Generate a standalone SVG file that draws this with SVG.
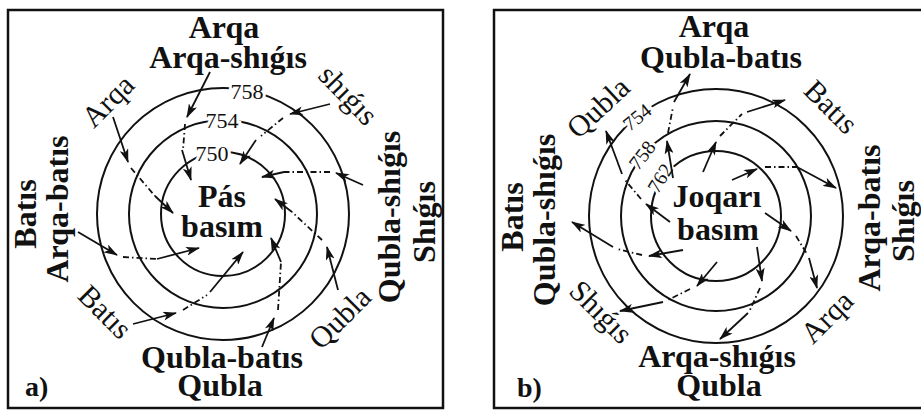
<svg xmlns="http://www.w3.org/2000/svg" width="921" height="412" viewBox="0 0 921 412">
<defs>
<style>
.fr{fill:none;stroke:#111;stroke-width:2.5}
.c{fill:none;stroke:#111;stroke-width:2}
.w{fill:none;stroke:#111;stroke-width:1.8}
.s{marker-end:url(#ah)}
.d{stroke-dasharray:6 3 1.5 3}
.b{font-family:"Liberation Serif",serif;font-weight:bold;font-size:32px;fill:#111;text-anchor:middle}
.r{font-family:"Liberation Serif",serif;font-size:30px;fill:#111;text-anchor:middle}
.n{font-family:"Liberation Serif",serif;font-size:22px;fill:#111;text-anchor:middle;stroke:#fff;stroke-width:6;paint-order:stroke}
.nb{font-size:20px}
</style>
<marker id="ah" viewBox="0 0 14 9" refX="13" refY="4.5" markerWidth="14" markerHeight="9" markerUnits="userSpaceOnUse" orient="auto">
<path d="M0,0 L14,4.5 L0,9 L3.5,4.5 z" fill="#111"/>
</marker>
</defs>
<rect width="921" height="412" fill="#fff"/>

<g id="panel-a">
<rect class="fr" x="8" y="10" width="435" height="398"/>
<g id="isobars-a">
<circle class="c" cx="223" cy="214" r="126"/>
<circle class="c" cx="223" cy="214" r="94"/>
<circle class="c" cx="223" cy="214" r="62"/>
</g>
<g id="values-a">
<text class="n" x="247" y="91" dy=".35em">758</text>
<text class="n" x="222" y="120" dy=".35em">754</text>
<text class="n" x="212" y="153" dy=".35em">750</text>
</g>
<g id="center-a">
<text class="b" x="222" y="207">Pás</text>
<text class="b" x="222" y="237">basım</text>
</g>
<g id="labels-a">
<text class="b" x="224" y="38">Arqa</text>
<text class="b" x="228" y="68">Arqa-shıǵıs</text>
<text class="b" x="222" y="368">Qubla-batıs</text>
<text class="b" x="220" y="396">Qubla</text>
<text class="b" transform="translate(36,214) rotate(-90)">Batıs</text>
<text class="b" transform="translate(68,209) rotate(-90)">Arqa-batıs</text>
<text class="b" transform="translate(400,217) rotate(-90)">Qubla-shıǵıs</text>
<text class="b" transform="translate(435,222) rotate(-90)">Shıǵıs</text>
<text class="r" transform="translate(115,108) rotate(-45)">Arqa</text>
<text class="r" transform="translate(341,102) rotate(46)">shıǵıs</text>
<text class="r" transform="translate(347,325) rotate(-45)">Qubla</text>
<text class="r" transform="translate(98,319) rotate(45)">Batıs</text>
<text class="b" x="25" y="396" style="font-size:28px;text-anchor:start">a)</text>
</g>
</g>

<g id="panel-b">
<rect class="fr" x="494" y="10" width="430" height="398"/>
<g id="isobars-b">
<circle class="c" cx="716" cy="216" r="127"/>
<circle class="c" cx="716" cy="216" r="95"/>
<circle class="c" cx="716" cy="216" r="65"/>
</g>
<g id="values-b">
<text class="n nb" transform="translate(637,117) rotate(-39)" dy=".35em">754</text>
<text class="n nb" transform="translate(642,155) rotate(-52)" dy=".35em">758</text>
<text class="n nb" transform="translate(660,178) rotate(-58)" dy=".35em">762</text>
</g>
<g id="center-b">
<text class="b" x="717" y="207">Joqarı</text>
<text class="b" x="718" y="240">basım</text>
</g>
<g id="labels-b">
<text class="b" x="714" y="37">Arqa</text>
<text class="b" x="721" y="68">Qubla-batıs</text>
<text class="b" x="717" y="367">Arqa-shıǵıs</text>
<text class="b" x="719" y="396">Qubla</text>
<text class="b" transform="translate(523,217) rotate(-90)">Batıs</text>
<text class="b" transform="translate(555,220) rotate(-90)">Qubla-shıǵıs</text>
<text class="b" transform="translate(880,218) rotate(-90)">Arqa-batıs</text>
<text class="b" transform="translate(914,221) rotate(-90)">Shıǵıs</text>
<text class="r" transform="translate(605,115) rotate(-43)">Qubla</text>
<text class="r" transform="translate(824,114) rotate(45)">Batıs</text>
<text class="r" transform="translate(594,319) rotate(45)">Shıǵıs</text>
<text class="r" transform="translate(834,324) rotate(-45)">Arqa</text>
<text class="b" x="517" y="397" style="font-size:28px;text-anchor:start">b)</text>
</g>
</g>

<g id="connectors">
<g id="winds-a">
<line class="w s" x1="210" y1="72" x2="187" y2="117"/>
<line class="w d" x1="185" y1="124" x2="183" y2="150"/>
<line class="w s" x1="182" y1="150" x2="191" y2="180"/>

<line class="w s" x1="113" y1="117" x2="128" y2="162"/>
<line class="w d" x1="131" y1="168" x2="155" y2="196"/>
<line class="w s" x1="155" y1="196" x2="173" y2="213"/>

<line class="w s" x1="330" y1="104" x2="290" y2="114"/>
<line class="w d" x1="283" y1="118" x2="261" y2="136"/>
<line class="w s" x1="256" y1="140" x2="240" y2="164"/>

<line class="w s" x1="363" y1="185" x2="336" y2="173"/>
<line class="w d" x1="330" y1="172" x2="284" y2="172"/>
<line class="w s" x1="284" y1="172" x2="262" y2="177"/>

<line class="w s" x1="338" y1="290" x2="327" y2="247"/>
<line class="w d" x1="322" y1="240" x2="292" y2="212"/>
<line class="w s" x1="292" y1="212" x2="275" y2="199"/>

<line class="w s" x1="262" y1="347" x2="274" y2="318"/>
<line class="w d" x1="278" y1="310" x2="281" y2="262"/>
<line class="w s" x1="281" y1="262" x2="271" y2="238"/>

<line class="w s" x1="133" y1="324" x2="176" y2="313"/>
<line class="w d" x1="183" y1="310" x2="207" y2="295"/>
<line class="w s" x1="210" y1="292" x2="243" y2="252"/>

<line class="w s" x1="78" y1="232" x2="117" y2="255"/>
<line class="w d" x1="123" y1="257" x2="157" y2="259"/>
<line class="w s" x1="157" y1="259" x2="199" y2="248"/>
</g>
<g id="winds-b">
<line class="w s" x1="673" y1="178" x2="667" y2="141"/>
<line class="w d" x1="668" y1="133" x2="673" y2="107"/>
<line class="w s" x1="674" y1="102" x2="690" y2="74"/>

<line class="w s" x1="670" y1="222" x2="646" y2="204"/>
<line class="w d" x1="641" y1="199" x2="625" y2="180"/>
<line class="w s" x1="622" y1="174" x2="606" y2="131"/>

<line class="w s" x1="703" y1="172" x2="716" y2="142"/>
<line class="w d" x1="720" y1="136" x2="742" y2="114"/>
<line class="w s" x1="747" y1="112" x2="785" y2="100"/>

<line class="w s" x1="732" y1="180" x2="757" y2="169"/>
<line class="w d" x1="765" y1="167" x2="797" y2="167"/>
<line class="w s" x1="797" y1="167" x2="836" y2="188"/>

<line class="w s" x1="765" y1="213" x2="791" y2="231"/>
<line class="w d" x1="796" y1="236" x2="807" y2="254"/>
<line class="w s" x1="809" y1="258" x2="817" y2="288"/>

<line class="w s" x1="757" y1="247" x2="762" y2="281"/>
<line class="w d" x1="760" y1="288" x2="750" y2="310"/>
<line class="w s" x1="748" y1="313" x2="720" y2="339"/>

<line class="w s" x1="717" y1="262" x2="697" y2="286"/>
<line class="w d" x1="690" y1="289" x2="668" y2="300"/>
<line class="w s" x1="663" y1="302" x2="620" y2="311"/>

<line class="w s" x1="683" y1="250" x2="649" y2="256"/>
<line class="w d" x1="642" y1="255" x2="617" y2="249"/>
<line class="w s" x1="613" y1="247" x2="572" y2="222"/>
</g>
</g>
</svg>
